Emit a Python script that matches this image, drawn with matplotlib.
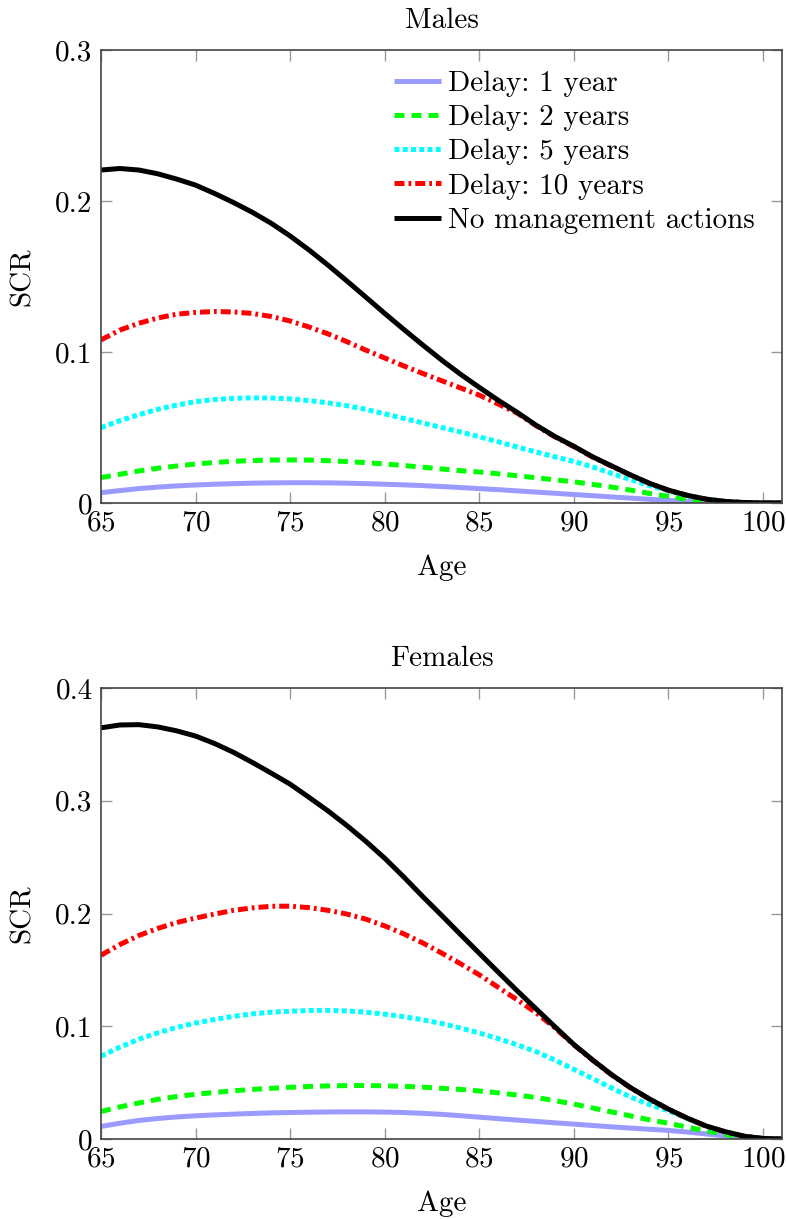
import matplotlib
matplotlib.use("Agg")
import matplotlib.pyplot as plt

plt.rcParams["font.family"] = ["cmr10", "DejaVu Serif"]
plt.rcParams["mathtext.fontset"] = "cm"
plt.rcParams["axes.formatter.use_mathtext"] = True

ages = list(range(65, 102))

# SCR by age, males
male_delay_1 = [0.0068, 0.0082, 0.0095, 0.0105, 0.0113, 0.0119, 0.0124, 0.0128, 0.0131, 0.0133,
                0.0134, 0.0134, 0.0133, 0.0131, 0.0128, 0.0124, 0.0120, 0.0115, 0.0109, 0.0102,
                0.0095, 0.0088, 0.0080, 0.0072, 0.0064, 0.0056, 0.0048, 0.0040, 0.0032, 0.0024,
                0.0017, 0.0010, 0.0005, 0.0002, 0.0000, 0.0, 0.0]
male_delay_2 = [0.0168, 0.0190, 0.0212, 0.0230, 0.0245, 0.0258, 0.0268, 0.0276, 0.0281, 0.0284,
                0.0285, 0.0284, 0.0280, 0.0274, 0.0267, 0.0258, 0.0248, 0.0237, 0.0225, 0.0214,
                0.0205, 0.0193, 0.0180, 0.0167, 0.0153, 0.0140, 0.0123, 0.0105, 0.0085, 0.0063,
                0.0043, 0.0025, 0.0012, 0.0005, 0.0001, 0.0, 0.0]
male_delay_5 = [0.0499, 0.0545, 0.0585, 0.0620, 0.0648, 0.0671, 0.0685, 0.0693, 0.0696, 0.0695,
                0.0689, 0.0678, 0.0663, 0.0644, 0.0620, 0.0590, 0.0560, 0.0530, 0.0500, 0.0470,
                0.0438, 0.0405, 0.0370, 0.0338, 0.0305, 0.0275, 0.0238, 0.0195, 0.0155, 0.0115,
                0.0080, 0.0048, 0.0024, 0.0010, 0.0003, 0.0, 0.0]
male_delay_10 = [0.1080, 0.1145, 0.1190, 0.1225, 0.1250, 0.1262, 0.1268, 0.1265, 0.1255, 0.1235,
                 0.1205, 0.1165, 0.1120, 0.1068, 0.1012, 0.0960, 0.0908, 0.0858, 0.0810, 0.0762,
                 0.0714, 0.0655, 0.0595, 0.0512, 0.0437, 0.0373, 0.0303, 0.0243, 0.0184, 0.0129,
                 0.0084, 0.0050, 0.0025, 0.0010, 0.0003, 0.0, 0.0]
male_no_action = [0.2205, 0.2215, 0.2205, 0.2180, 0.2145, 0.2105, 0.2050, 0.1990, 0.1925, 0.1852,
                  0.1768, 0.1675, 0.1575, 0.1470, 0.1363, 0.1255, 0.1150, 0.1047, 0.0947, 0.0853,
                  0.0765, 0.0680, 0.0600, 0.0515, 0.0440, 0.0375, 0.0305, 0.0245, 0.0185, 0.0130,
                  0.0085, 0.0050, 0.0025, 0.0010, 0.0003, 0.0, 0.0]

# SCR by age, females
female_delay_1 = [0.0112, 0.0140, 0.0165, 0.0182, 0.0196, 0.0206, 0.0214, 0.0221, 0.0227, 0.0232,
                  0.0235, 0.0238, 0.0240, 0.0241, 0.0241, 0.0239, 0.0235, 0.0228, 0.0219, 0.0207,
                  0.0194, 0.0181, 0.0168, 0.0156, 0.0144, 0.0132, 0.0120, 0.0108, 0.0097, 0.0087,
                  0.0076, 0.0062, 0.0045, 0.0027, 0.0011, 0.0002, 0.0]
female_delay_2 = [0.0244, 0.0285, 0.0320, 0.0352, 0.0377, 0.0397, 0.0413, 0.0428, 0.0440, 0.0450,
                  0.0459, 0.0466, 0.0471, 0.0474, 0.0475, 0.0472, 0.0467, 0.0460, 0.0450, 0.0440,
                  0.0426, 0.0410, 0.0390, 0.0368, 0.0340, 0.0310, 0.0275, 0.0240, 0.0205, 0.0170,
                  0.0140, 0.0105, 0.0072, 0.0042, 0.0015, 0.0003, 0.0]
female_delay_5 = [0.0735, 0.0815, 0.0885, 0.0942, 0.0990, 0.1029, 0.1060, 0.1088, 0.1110, 0.1125,
                  0.1133, 0.1140, 0.1141, 0.1136, 0.1125, 0.1107, 0.1085, 0.1058, 0.1025, 0.0985,
                  0.0940, 0.0890, 0.0835, 0.0775, 0.0700, 0.0618, 0.0535, 0.0452, 0.0372, 0.0305,
                  0.0250, 0.0180, 0.0112, 0.0063, 0.0024, 0.0005, 0.0]
female_delay_10 = [0.1630, 0.1725, 0.1805, 0.1868, 0.1920, 0.1960, 0.1995, 0.2028, 0.2050, 0.2064,
                   0.2065, 0.2052, 0.2028, 0.1995, 0.1950, 0.1890, 0.1820, 0.1740, 0.1650, 0.1555,
                   0.1456, 0.1345, 0.1235, 0.1120, 0.0985, 0.0835, 0.0698, 0.0568, 0.0453, 0.0353,
                   0.0263, 0.0183, 0.0114, 0.0064, 0.0025, 0.0005, 0.0]
female_no_action = [0.3647, 0.3672, 0.3675, 0.3655, 0.3620, 0.3574, 0.3508, 0.3430, 0.3340, 0.3245,
                    0.3147, 0.3030, 0.2910, 0.2780, 0.2640, 0.2490, 0.2325, 0.2152, 0.1985, 0.1815,
                    0.1647, 0.1480, 0.1315, 0.1155, 0.0995, 0.0838, 0.0700, 0.0570, 0.0455, 0.0355,
                    0.0265, 0.0185, 0.0115, 0.0065, 0.0025, 0.0005, 0.0]

labels = ["Delay: 1 year", "Delay: 2 years", "Delay: 5 years", "Delay: 10 years",
          "No management actions"]
males = [male_delay_1, male_delay_2, male_delay_5, male_delay_10, male_no_action]
females = [female_delay_1, female_delay_2, female_delay_5, female_delay_10, female_no_action]

LW = 3.6
styles = [
    dict(color="#9a9aff", linestyle="-"),
    dict(color="#00ff00", linestyle=(0, (2.0, 1.4))),
    dict(color="#00ffff", linestyle=(0, (1.0, 0.65))),
    dict(color="#ff0000", linestyle=(0, (2.0, 0.8, 0.55, 0.8))),
    dict(color="#000000", linestyle="-"),
]

FS = 21
fig = plt.figure(figsize=(7.86, 12.19), dpi=100)
ax_m = fig.add_axes([0.1285, 0.5874, 0.8664, 0.3716])
ax_f = fig.add_axes([0.1285, 0.0656, 0.8664, 0.3700])


def draw(ax, series, title, ymax, yticks, show_legend):
    for ys, lab, st in zip(series, labels, styles):
        ax.plot(ages, ys, label=lab, linewidth=LW, dash_capstyle="butt",
                solid_capstyle="butt", **st)
    ax.set_xlim(65, 101)
    ax.set_ylim(0, ymax)
    ax.set_xticks([65, 70, 75, 80, 85, 90, 95, 100])
    ax.set_yticks(yticks)
    ax.set_yticklabels([("0" if t == 0 else f"{t:.1f}") for t in yticks])
    ax.tick_params(direction="in", length=8, width=1.0, color="#999999",
                   top=True, right=True, labelsize=FS)
    ax.tick_params(axis="x", pad=5)
    ax.tick_params(axis="y", pad=6)
    for sp in ax.spines.values():
        sp.set_color("#444444")
        sp.set_linewidth(1.2)
    ax.set_title(title, fontsize=FS, pad=16)
    ax.set_xlabel("Age", fontsize=FS, labelpad=13)
    ax.set_ylabel("SCR", fontsize=FS, labelpad=14)
    if show_legend:
        ax.legend(loc="upper right", frameon=False, fontsize=FS, handlelength=1.6,
                  handletextpad=0.25, labelspacing=0.27, borderaxespad=0.3,
                  bbox_to_anchor=(0.99, 1.0))


draw(ax_m, males, "Males", 0.3, [0, 0.1, 0.2, 0.3], True)
draw(ax_f, females, "Females", 0.4, [0, 0.1, 0.2, 0.3, 0.4], False)

fig.savefig("out.png", dpi=100)
